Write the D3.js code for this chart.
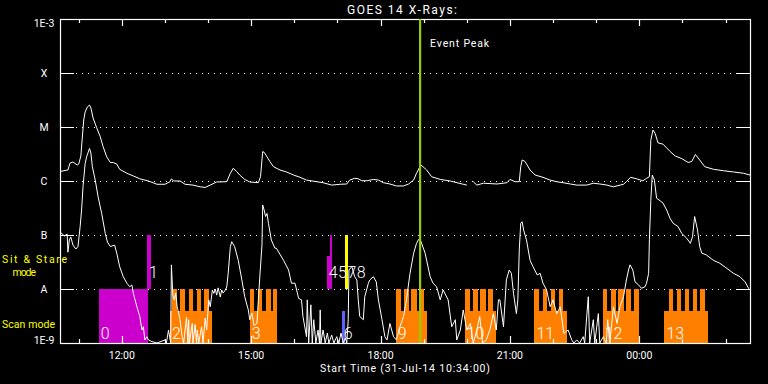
<!DOCTYPE html>
<html><head><meta charset="utf-8">
<script src="https://cdn.jsdelivr.net/npm/d3@7"></script>
<style>html,body{margin:0;padding:0;background:#000;}svg{display:block;}</style>
</head><body>
<svg id="chart" width="768" height="384"></svg>
<script>
// ---------- DATA ----------
const START = new Date(2014, 6, 31, 10, 34);
const DURATION_MIN = 960;
const titleText = "GOES 14 X-Rays:";
const xTitleText = "Start Time (31-Jul-14 10:34:00)";
const yTickValues = [1e-9, 1e-8, 1e-7, 1e-6, 1e-5, 1e-4, 1e-3];
const yTickLabels = ["1E-9", "A", "B", "C", "M", "X", "1E-3"];
const gridValues = [1e-8, 1e-7, 1e-6, 1e-5, 1e-4];
const eventPeakMin = 501;
const eventPeakText = "Event Peak";
const stareText = ["Sit & Stare", "mode"];
const scanText = "Scan mode";

// GOES long channel (1-8 Å), [minutes since start, W/m²]
const longChannel = [
[0,1.5e-6],[11,1.6e-6],[14,2.15e-6],[18,2.25e-6],[24,1.98e-6],[26,2.06e-6],[29,2.9e-6],[33,1.35e-5],
[35,1.9e-5],[38,2.35e-5],[41,2.55e-5],[43,2.25e-5],[46,1.47e-5],[51,9.7e-6],[56,6.6e-6],[60,4.3e-6],
[65,2.8e-6],[70,2.2e-6],[74,2.2e-6],[79,2.06e-6],[83,1.65e-6],[93,1.39e-6],[102,1.24e-6],[111,1.1e-6],
[123,1.0e-6],[135,8.7e-7],[146,8.7e-7],[153,9.7e-7],[155,1.1e-6],[158,1.0e-6],[167,1.0e-6],[174,8.7e-7],
[185,8.4e-7],[195,7.8e-7],[202,7.6e-7],[209,8.4e-7],[218,9.6e-7],[232,9.7e-7],[237,1.39e-6],[241,1.72e-6],
[246,1.49e-6],[250,1.29e-6],[257,1.07e-6],[264,9.6e-7],[276,9.3e-7],[279,1.2e-6],[282,3.5e-6],[284,3.4e-6],
[288,2.8e-6],[292,2.3e-6],[297,1.84e-6],[306,1.6e-6],[315,1.47e-6],[325,1.29e-6],[334,1.17e-6],[343,1.04e-6],
[357,9.7e-7],[366,9.3e-7],[378,8.4e-7],[390,8.7e-7],[399,8.8e-7],[403,1.04e-6],[410,1.12e-6],[415,1.1e-6],
[420,1.01e-6],[427,1.01e-6],[436,1.07e-6],[443,1.04e-6],[450,9.3e-7],[459,8.8e-7],[468,8.1e-7],[478,8.1e-7],
[485,8.8e-7],[492,1.04e-6],[496,1.39e-6],[502,1.98e-6],[505,1.84e-6],[510,1.6e-6],[517,1.2e-6],[529,1.07e-6],
[543,1.0e-6],[561,8.7e-7],[566,8.4e-7],[570,null],[575,9.7e-7],[580,8.4e-7],[589,9.1e-7],[608,8.8e-7],
[622,9.3e-7],[626,1.07e-6],[633,9.7e-7],[639,9.7e-7],[641,1.84e-6],[643,2.45e-6],[647,2.3e-6],[654,1.6e-6],
[661,1.29e-6],[672,1.17e-6],[682,1.04e-6],[691,9.7e-7],[700,9.3e-7],[710,8.8e-7],[719,8.4e-7],[733,8.4e-7],
[742,9.1e-7],[751,8.8e-7],[761,8.4e-7],[770,7.8e-7],[784,8.7e-7],[788,9.7e-7],[794,1.17e-6],[802,1.1e-6],
[811,1.01e-6],[816,1.12e-6],[820,1.2e-6],[822,5.7e-6],[825,8.8e-6],[828,7.6e-6],[832,5.1e-6],[839,4.8e-6],
[849,3.5e-6],[856,2.9e-6],[865,2.6e-6],[874,2.2e-6],[879,2.3e-6],[884,3.1e-6],[890,2.45e-6],[897,1.84e-6],
[909,1.65e-6],[923,1.55e-6],[937,1.47e-6],[951,1.39e-6],[960,1.29e-6]
];

// GOES short channel (0.5-4 Å), [minutes since start, W/m²]
const shortChannel = [
[0,1.14e-7],[6,9.6e-8],[10,1.04e-7],[11,4.8e-8],[13,8.1e-8],[15,9.2e-8],[18,6.5e-8],[22,5.5e-8],
[25,6.1e-8],[28,1.43e-7],[30,2.9e-7],[32,7.8e-7],[35,2.1e-6],[37,2.8e-6],[41,4.0e-6],[43,3.3e-6],
[45,1.84e-6],[49,1.04e-6],[53,5.1e-7],[58,2.5e-7],[63,1.07e-7],[66,7.4e-8],[70,6.1e-8],[76,6.5e-8],
[79,4.6e-8],[83,2.6e-8],[88,1.69e-8],[93,1.28e-8],[97,1.1e-8],[100,1.19e-8],[102,8.3e-9],[107,4.7e-9],
[111,3.1e-9],[114,1.74e-9],[116,2.0e-9],[118,1.14e-9],[121,1.31e-9],[123,1.14e-9],[128,1.06e-9],[135,8e-10],
[146,1.14e-9],[148,8e-10],[151,1.74e-9],[154,8e-10],[155,2.8e-8],[157,7.7e-9],[159,6.3e-9],[161,8.4e-9],
[163,4.7e-9],[165,3.6e-9],[167,2.7e-9],[170,1.29e-9],[172,8e-10],[176,3.0e-9],[178,8e-10],[179,2.7e-9],
[180,8e-10],[184,2.3e-9],[185,8e-10],[188,2.2e-9],[190,8e-10],[191,1.74e-9],[193,8e-10],[197,2.0e-9],
[199,8e-10],[202,2.9e-9],[204,1.74e-9],[207,6.3e-9],[209,4.7e-9],[212,9.6e-9],[214,8.3e-9],[216,1.0e-8],
[218,7.7e-9],[220,1.05e-8],[223,7.1e-9],[225,9.6e-9],[227,8.4e-9],[230,9.6e-9],[232,1.09e-8],[234,1.95e-8],
[237,6.1e-8],[239,7.5e-8],[243,6.1e-8],[248,3.4e-8],[253,1.47e-8],[257,7.2e-9],[262,4.1e-9],[264,2.7e-9],
[267,3.6e-9],[270,2.1e-9],[274,2.3e-9],[276,6.3e-9],[278,1.69e-8],[281,6.5e-8],[282,3.6e-7],[284,2.9e-7],
[286,2.2e-7],[288,2.5e-7],[290,1.65e-7],[294,8.1e-8],[299,5.7e-8],[301,5.7e-8],[311,3.4e-8],[318,2.25e-8],
[322,1.28e-8],[327,1.28e-8],[332,6.7e-9],[336,6.3e-9],[338,3.1e-9],[343,1.31e-9],[344,6.3e-9],[346,8e-10],
[349,5.1e-9],[351,8e-10],[353,2.7e-9],[356,8e-10],[359,1.74e-9],[361,8e-10],[362,4.1e-9],[363,8e-10],
[366,1.74e-9],[369,8e-10],[372,1.53e-9],[374,8e-10],[378,1.4e-9],[381,8e-10],[385,1.31e-9],[388,8e-10],
[391,1.53e-9],[394,8e-10],[397,1.24e-9],[399,8e-10],[401,2.7e-9],[402,2.25e-8],[406,2.6e-8],[410,1.69e-8],
[413,1.47e-8],[415,6.3e-9],[417,3.1e-9],[422,2.7e-9],[424,7.2e-9],[429,1.28e-8],[431,1.47e-8],[436,1.69e-8],
[440,1.36e-8],[443,6.3e-9],[448,2.7e-9],[452,1.31e-9],[455,1.14e-9],[459,2.3e-9],[464,1.31e-9],[468,1.14e-9],
[473,2.0e-9],[478,3.1e-9],[482,6.3e-9],[487,1.95e-8],[492,4.6e-8],[496,7.0e-8],[499,8.3e-8],[502,7.7e-8],
[508,4.6e-8],[515,1.69e-8],[519,1.28e-8],[524,1.1e-8],[529,6.3e-9],[533,9.6e-9],[540,6.3e-9],[545,2.0e-9],
[550,2.7e-9],[552,1.14e-9],[557,1.74e-9],[561,4.1e-9],[566,1.74e-9],[571,2.3e-9],[575,8e-10],[580,1.74e-9],
[584,3.1e-9],[588,8e-10],[593,1.14e-9],[598,1.74e-9],[603,3.5e-9],[607,1.74e-9],[610,6.3e-9],[612,6.3e-9],
[617,2.0e-9],[621,1.47e-8],[625,2.25e-8],[628,1.95e-8],[631,8.3e-9],[635,3.5e-9],[637,6.3e-9],[639,5.3e-8],
[641,1.65e-7],[643,1.76e-7],[645,1.24e-7],[649,8.1e-8],[654,3.4e-8],[658,2.6e-8],[664,1.82e-8],[668,1.95e-8],
[672,1.28e-8],[677,9.6e-9],[682,4.7e-9],[686,6.3e-9],[691,3.5e-9],[696,4.7e-9],[701,1.51e-9],[707,1.74e-9],
[712,1.14e-9],[715,8e-10],[719,1.14e-9],[723,8e-10],[728,1.31e-9],[730,8e-10],[735,7.2e-9],[737,8e-10],
[742,2.7e-9],[744,8e-10],[749,3.5e-9],[751,8e-10],[756,1.31e-9],[760,8e-10],[762,2.7e-9],[765,8e-10],
[770,4.7e-9],[775,2.3e-9],[779,4.7e-9],[784,7.2e-9],[788,1.47e-8],[791,2.25e-8],[793,2.8e-8],[797,2.25e-8],
[800,1.36e-8],[805,1.19e-8],[809,1.03e-8],[814,1.1e-8],[816,1.28e-8],[819,1.95e-8],[820,8.1e-8],[822,4.4e-7],
[824,1.29e-6],[827,1.04e-6],[830,4.8e-7],[835,4.3e-7],[839,3.9e-7],[844,2.9e-7],[849,2.0e-7],[853,1.65e-7],
[860,1.43e-7],[865,1.07e-7],[872,8.7e-8],[877,7.0e-8],[880,9.3e-8],[883,2.2e-7],[887,1.24e-7],[890,6.1e-8],
[893,4.6e-8],[899,4.3e-8],[909,3.4e-8],[918,3.0e-8],[928,2.4e-8],[937,1.95e-8],[946,1.69e-8],[953,1.36e-8],
[958,1.03e-8],[960,9.6e-9]
];

// Observing modes (minutes since start)
const modeLabels = ["0","1","2","3","4","5","6","7","8","9","10","11","12","13"];
const modeBand   = ["scan","stare","scan","scan","stare","stare","scan","stare","stare","scan","scan","scan","scan","scan"];
const modeShape  = ["full","full","comb","comb","full","full","base","full","full","comb","comb","comb","comb","comb"];
const modeColor  = ["m","m","o","o","m","m","b","y","y","o","o","o","o","o"];
const modeStart  = [54.3,121,153,264.3,371.5,375.7,392.3,397.6,399.3,467.5,563.5,660.9,755.4,841.4];
const modeEnd    = [122,127.6,212.5,302,375.7,379.8,396,399.3,399.8,511.6,607.6,705.8,805,902.6];
const modeFill   = [1,1,1,1,0.61,1,1,1,1,1,1,1,1,1];
const teethStart = [null,null,156.8,264.3,null,null,null,null,null,467.5,563.5,660.9,755.4,847];
const teethCount = [0,0,5,4,0,0,0,0,0,4,4,4,5,5];
const SCAN_PERIOD = 11.13, SCAN_DWELL = 6.5;

// ---------- STYLE / LAYOUT ----------
const colors = {m:"#cc00cc", o:"#ff8000", b:"#6060ff", y:"#ffff00"};
const W = 768, H = 384;
const M = {left:60, right:18, top:19, bottom:41};
const FONT = "Roboto, 'DejaVu Sans', sans-serif";

const svg = d3.select("#chart");
svg.append("rect").attr("width", W).attr("height", H).attr("fill", "#000");

const x = d3.scaleTime()
  .domain([START, d3.timeMinute.offset(START, DURATION_MIN)])
  .range([M.left, W - M.right]);
const y = d3.scaleLog().domain([1e-9, 1e-3]).range([H - M.bottom, M.top]).clamp(true);
const tx = m => x(d3.timeMinute.offset(START, m));
const x0 = M.left, x1 = W - M.right, yTop = M.top, yBot = H - M.bottom;

// grid
const g = svg.append("g").attr("shape-rendering", "crispEdges");
gridValues.forEach(v => {
  const yy = Math.round(y(v)) + 0.5;
  g.append("line").attr("x1", x0 + 16).attr("x2", x1 - 14).attr("y1", yy).attr("y2", yy)
    .attr("stroke", "#fff").attr("stroke-dasharray", "1,5");
  g.append("line").attr("x1", x0).attr("x2", x0 + 14).attr("y1", yy).attr("y2", yy).attr("stroke", "#fff");
  g.append("line").attr("x1", x1 - 14).attr("x2", x1).attr("y1", yy).attr("y2", yy).attr("stroke", "#fff");
});

// modes
const bars = svg.append("g").attr("shape-rendering", "crispEdges");
modeLabels.forEach((lab, i) => {
  const xa = tx(modeStart[i]), xb = tx(modeEnd[i]);
  const band = modeBand[i] === "scan" ? [1e-9, 1e-8] : [1e-8, 1e-7];
  const yb = y(band[0]), ytop = y(band[1]);
  const fill = colors[modeColor[i]];
  if (modeShape[i] === "full") {
    const yt = yb - (yb - ytop) * modeFill[i];
    bars.append("rect").attr("x", xa).attr("y", yt).attr("width", Math.max(1.2, xb - xa)).attr("height", yb - yt).attr("fill", fill);
  } else {
    const baseTop = y(Math.pow(10, -8.4));
    bars.append("rect").attr("x", xa).attr("y", baseTop).attr("width", xb - xa).attr("height", yb - baseTop).attr("fill", fill);
    if (modeShape[i] === "comb") {
      for (let k = 0; k < teethCount[i]; k++) {
        const s = teethStart[i] + k * SCAN_PERIOD;
        const e = Math.min(s + SCAN_DWELL, modeEnd[i]);
        bars.append("rect").attr("x", tx(s)).attr("y", ytop).attr("width", tx(e) - tx(s))
          .attr("height", baseTop - ytop + 0.5).attr("fill", fill);
      }
    }
  }
});
// mode labels (nudged right when they would collide with the previous label in the same band)
const labs = svg.append("g").attr("font-family", FONT).attr("font-weight", 300).attr("font-size", 16).attr("fill", "#fff");
const lastEnd = {scan: -Infinity, stare: -Infinity};
modeLabels.forEach((lab, i) => {
  const band = modeBand[i];
  const yy = band === "scan" ? y(1e-9) - 4 : y(1e-8) - 11;
  const t = labs.append("text").attr("y", yy).text(lab);
  const xx = Math.max(tx(modeStart[i]) + 2, lastEnd[band] + 0.5);
  t.attr("x", xx);
  lastEnd[band] = xx + t.node().getComputedTextLength();
});

// curves
const line = d3.line().defined(d => d[1] !== null).x(d => tx(d[0])).y(d => y(d[1]));
const curves = svg.append("g").attr("fill", "none").attr("stroke", "#fff").attr("stroke-width", 1);
curves.append("path").datum(shortChannel).attr("d", line);
curves.append("path").datum(longChannel).attr("d", line);

// frame
svg.append("rect").attr("x", x0 + 0.5).attr("y", yTop + 0.5).attr("width", x1 - x0).attr("height", yBot - yTop)
  .attr("fill", "none").attr("stroke", "#fff").attr("stroke-width", 1.2);

// time ticks top & bottom
const hours = d3.timeHour.range(START, d3.timeMinute.offset(START, DURATION_MIN));
const ticks = svg.append("g").attr("stroke", "#fff").attr("stroke-width", 1.2);
hours.forEach(h => {
  const xx = Math.round(x(h)) + 0.5;
  const len = h.getHours() % 3 === 0 ? 7 : 4;
  ticks.append("line").attr("x1", xx).attr("x2", xx).attr("y1", yTop).attr("y2", yTop + len);
  ticks.append("line").attr("x1", xx).attr("x2", xx).attr("y1", yBot).attr("y2", yBot - len);
});
const fmt = d3.timeFormat("%H:%M");
const tl = svg.append("g").attr("font-family", FONT).attr("font-size", 10.5).attr("fill", "#fff").attr("text-anchor", "middle");
hours.filter(h => h.getHours() % 3 === 0).forEach(h => {
  tl.append("text").attr("x", x(h)).attr("y", yBot + 16).text(fmt(h));
});

// y labels
yTickValues.forEach((v, i) => {
  const yy = Math.min(Math.max(y(v) + 3.8, yTop + 7.7), yBot + 1);
  tl.append("text").attr("x", 44).attr("y", yy).text(yTickLabels[i]);
});

// titles
svg.append("text").attr("x", 402).attr("y", 14).attr("text-anchor", "middle").attr("font-family", FONT)
  .attr("font-size", 12).attr("fill", "#fff").attr("textLength", 110).text(titleText);
svg.append("text").attr("x", 405).attr("y", 372).attr("text-anchor", "middle").attr("font-family", FONT)
  .attr("font-size", 10.5).attr("fill", "#fff").attr("textLength", 170).text(xTitleText);

// side mode texts
const side = svg.append("g").attr("font-family", FONT).attr("font-size", 10.5).attr("fill", "#ffff00");
side.append("text").attr("x", 2).attr("y", 263).attr("textLength", 65).text(stareText[0]);
side.append("text").attr("x", 12.5).attr("y", 275.5).attr("textLength", 23.5).text(stareText[1]);
side.append("text").attr("x", 2).attr("y", 327.5).attr("textLength", 53).text(scanText);

// event peak
const xp = tx(eventPeakMin);
svg.append("line").attr("x1", xp).attr("x2", xp).attr("y1", yTop).attr("y2", yBot)
  .attr("stroke", "#99cc00").attr("stroke-width", 2.2);
svg.append("text").attr("x", xp + 10).attr("y", 47).attr("font-family", FONT).attr("font-size", 10.5)
  .attr("fill", "#fff").attr("textLength", 59).text(eventPeakText);
</script>
</body></html>
